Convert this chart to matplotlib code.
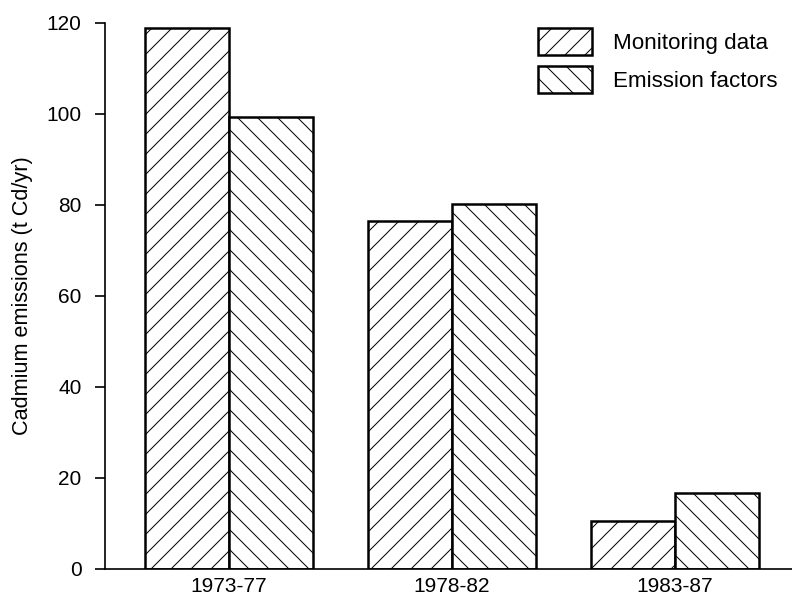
import numpy as np
import matplotlib
matplotlib.use("Agg")
import matplotlib.pyplot as plt

periods = ["1973-77", "1978-82", "1983-87"]
monitoring = [119, 76.5, 10.6]
emission_factors = [99.4, 80.2, 16.7]

plt.rcParams['font.family'] = ['Liberation Sans', 'DejaVu Sans']
plt.rcParams['hatch.linewidth'] = 0.6

# dpi 120 so hatch spacing matches the scan
fig = plt.figure(figsize=(6.6, 5.0), dpi=120)
ax = fig.add_axes([0.1326, 0.0517, 0.8674, 0.91])

x = np.arange(len(periods))
w = 0.377
ax.bar(x - w / 2, monitoring, w, facecolor="white", edgecolor="black",
       linewidth=1.5, hatch="//", label="Monitoring data")
ax.bar(x + w / 2, emission_factors, w, facecolor="white", edgecolor="black",
       linewidth=1.5, hatch="\\\\", label="Emission factors")

ax.set_xlim(-0.556, 2.525)
ax.set_ylim(0, 120)
ax.set_xticks(x)
ax.set_xticklabels(periods, fontsize=12.5)
ax.set_yticks([0, 20, 40, 60, 80, 100, 120])
ax.tick_params(axis="y", length=6, width=1, pad=8, labelsize=12.5)
ax.tick_params(axis="x", length=0, pad=5)
ax.set_ylabel("Cadmium emissions (t Cd/yr)", fontsize=13, labelpad=8)

for s in ["top", "right"]:
    ax.spines[s].set_visible(False)
ax.spines["left"].set_linewidth(1)
ax.spines["bottom"].set_linewidth(1)

ax.legend(loc="upper left", bbox_to_anchor=(0.654, 0.987),
          bbox_transform=fig.transFigure, frameon=False, fontsize=13.4,
          handlelength=2.4, handleheight=1.47, handletextpad=0.95,
          labelspacing=0.5)

fig.savefig("out.png", dpi=120)
